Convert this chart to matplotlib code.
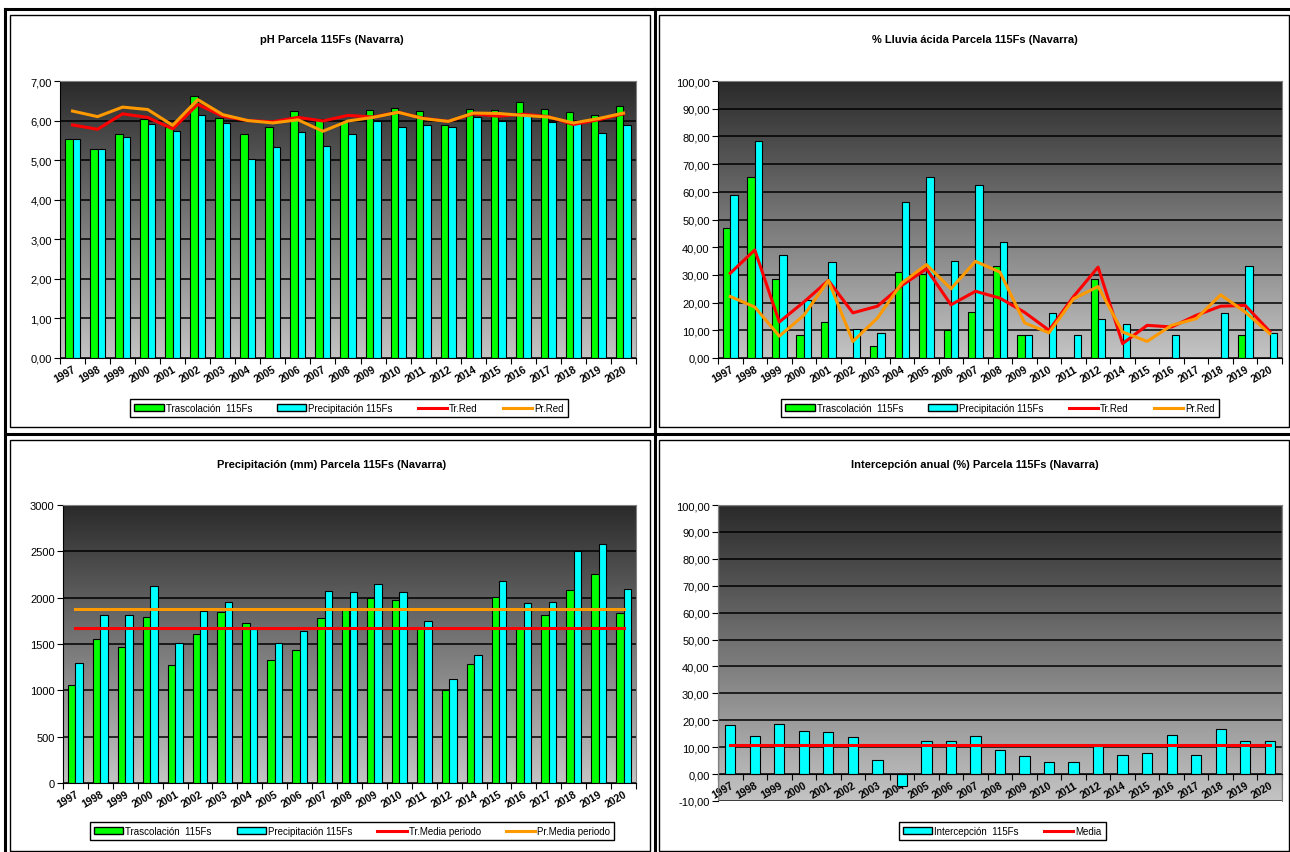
# grafico_115Fs.py
# Cuatro paneles estilo Excel: pH, % lluvia ácida, precipitación e intercepción

import numpy as np
import matplotlib
matplotlib.use("Agg")
import matplotlib.pyplot as plt
import matplotlib.ticker as ticker
from matplotlib.colors import LinearSegmentedColormap
from matplotlib.patches import Patch, Rectangle
from matplotlib.lines import Line2D

plt.rcParams["font.family"] = ["Liberation Sans", "DejaVu Sans"]

# ─── Datos ────────────────────────────────────────────────────────────────────

anios = ["1997", "1998", "1999", "2000", "2001", "2002", "2003", "2004", "2005",
         "2006", "2007", "2008", "2009", "2010", "2011", "2012", "2014", "2015",
         "2016", "2017", "2018", "2019", "2020"]

ph_trasc = [5.54, 5.29, 5.65, 6.05, 5.83, 6.61, 6.06, 5.65, 5.85, 6.23, 6.05, 5.99,
            6.27, 6.32, 6.24, 5.90, 6.30, 6.26, 6.46, 6.28, 6.21, 6.14, 6.36]
ph_prec = [5.54, 5.29, 5.59, 5.92, 5.74, 6.15, 5.94, 5.03, 5.33, 5.71, 5.35, 5.65,
           5.99, 5.84, 5.88, 5.83, 6.08, 5.99, 6.17, 5.96, 5.99, 5.68, 5.88]
ph_tr_red = [5.89, 5.78, 6.17, 6.08, 5.79, 6.41, 6.11, 6.00, 5.97, 6.08, 5.99, 6.13,
             6.09, 6.21, 6.06, 5.98, 6.17, 6.11, 6.16, 6.10, 5.90, 6.02, 6.17]
ph_pr_red = [6.24, 6.10, 6.34, 6.28, 5.88, 6.53, 6.15, 6.00, 5.94, 6.02, 5.73, 5.99,
             6.08, 6.21, 6.05, 5.98, 6.19, 6.18, 6.13, 6.09, 5.94, 6.05, 6.19]

nan = np.nan
acida_trasc = [46.9, 65.2, 28.6, 8.3, 13.0, nan, 4.4, 31.2, 30.4, 10.0, 16.6, 33.3,
               8.2, nan, nan, 28.5, nan, nan, nan, nan, nan, 8.2, nan]
acida_prec = [58.8, 78.4, 37.3, 20.9, 34.7, 10.3, 8.9, 56.2, 65.2, 34.9, 62.4, 41.7,
              8.2, 16.4, 8.2, 14.2, 12.4, nan, 8.2, nan, 16.4, 33.1, 8.9]
acida_tr_red = [30.6, 39.0, 13.0, 20.2, 28.0, 16.3, 18.7, 26.2, 32.2, 19.2, 24.1, 21.6,
                16.5, 10.0, 22.2, 32.8, 5.2, 11.8, 11.2, 15.4, 18.7, 19.0, 9.6]
acida_pr_red = [22.2, 18.4, 7.9, 15.4, 28.0, 6.0, 14.4, 27.1, 33.7, 25.0, 34.9, 31.0,
                12.7, 9.1, 21.4, 25.8, 9.4, 6.0, 11.8, 14.2, 22.8, 16.6, 8.8]

lluvia_trasc = [1056, 1552, 1470, 1786, 1272, 1603, 1847, 1732, 1326, 1437, 1782, 1868,
                2001, 1973, 1670, 1003, 1283, 2009, 1670, 1815, 2088, 2260, 1836]
lluvia_prec = [1297, 1815, 1811, 2124, 1513, 1851, 1951, 1657, 1513, 1639, 2077, 2066,
               2149, 2066, 1743, 1117, 1380, 2177, 1947, 1955, 2504, 2584, 2098]
lluvia_tr_media = 1671
lluvia_pr_media = 1876

intercepcion = [18.4, 14.3, 18.8, 15.9, 15.8, 13.8, 5.4, -4.3, 12.4, 12.2, 14.2, 9.1,
                6.8, 4.4, 4.6, 10.5, 7.0, 7.8, 14.5, 7.2, 16.7, 12.4, 12.4]
intercepcion_media = 10.9

# ─── Estilo ───────────────────────────────────────────────────────────────────

W, H = 1290, 853
VERDE, CIAN, ROJO, NARANJA = "#00FF00", "#00FFFF", "#FF0000", "#FF9900"
fondo = LinearSegmentedColormap.from_list("fondo", ["#2a2a2a", "#c4c4c4"])
x = np.arange(len(anios))


def fx(px):
    return px / W


def fy(py):
    return 1 - py / H


def crear_ejes(fig, izq, der, arriba, abajo, eje_en_cero=False):
    ax = fig.add_axes([fx(izq), fy(abajo), fx(der - izq), (abajo - arriba) / H])
    grad = np.linspace(0, 1, 256).reshape(-1, 1)
    ax.imshow(grad, extent=[0, 1, 0, 1], transform=ax.transAxes, aspect="auto",
              cmap=fondo, zorder=0, interpolation="bilinear")
    ax.set_axisbelow(True)
    ax.yaxis.grid(True, color="black", linewidth=1.1)
    for lado in ["top", "right"]:
        ax.spines[lado].set_color("#808080")
    ax.spines["left"].set_color("black")
    ax.spines["bottom"].set_color("black")
    if eje_en_cero:
        # el eje de categorías cruza en 0, el borde inferior queda en gris
        ax.spines["bottom"].set_position(("data", 0))
        ax.add_patch(Rectangle((0, 0), 1, 1, transform=ax.transAxes, fill=False,
                               edgecolor="#808080", linewidth=1, zorder=5))
    ax.set_xlim(-0.5, len(anios) - 0.5)
    # marcas en los límites de categoría, etiquetas en el centro
    ax.set_xticks(np.arange(-0.5, len(anios)))
    ax.set_xticklabels([])
    ax.set_xticks(x, minor=True)
    ax.set_xticklabels(anios, minor=True, rotation=30, ha="right",
                       rotation_mode="anchor", fontsize=7.5, fontweight="bold")
    ax.tick_params(axis="x", which="major", length=4, direction="out", color="black")
    ax.tick_params(axis="x", which="minor", length=0, pad=4)
    ax.tick_params(axis="y", length=4, labelsize=8, color="black", pad=2)
    return ax


def leyenda(fig, handles, cx, cy):
    fig.legend(handles=handles, loc="center", bbox_to_anchor=(fx(cx), fy(cy)),
               ncol=len(handles), fontsize=7, frameon=True, fancybox=False,
               edgecolor="black", framealpha=1, handlelength=3.0, handleheight=0.7,
               columnspacing=2.6, handletextpad=0.2, borderpad=0.45)


def coma(fmt):
    return ticker.FuncFormatter(lambda v, p: fmt.format(v).replace(".", ","))


fig = plt.figure(figsize=(W / 100, H / 100), dpi=100)

# ─── Marcos ───────────────────────────────────────────────────────────────────

for (x0, y0, x1, y1) in [(10, 16, 650, 428), (659, 16, 1289, 428),
                         (10, 441, 650, 852), (659, 441, 1289, 852)]:
    fig.add_artist(Rectangle((fx(x0), fy(y1)), fx(x1 - x0), (y1 - y0) / H,
                             transform=fig.transFigure, fill=False,
                             edgecolor="black", linewidth=1))
for (xa, ya, xb, yb) in [(5, 10, 1290, 10), (5, 10, 5, 853), (654.5, 10, 654.5, 853),
                         (5, 434.5, 1290, 434.5)]:
    fig.add_artist(Line2D([fx(xa), fx(xb)], [fy(ya), fy(yb)], transform=fig.transFigure,
                          color="black", linewidth=2.2))

# ─── pH ───────────────────────────────────────────────────────────────────────

ax1 = crear_ejes(fig, 60, 636, 82, 359)
ax1.bar(x - 0.15, ph_trasc, 0.3, color=VERDE, edgecolor="black", linewidth=0.8, zorder=2)
ax1.bar(x + 0.15, ph_prec, 0.3, color=CIAN, edgecolor="black", linewidth=0.8, zorder=2)
ax1.plot(x, ph_tr_red, color=ROJO, linewidth=2.2, zorder=3)
ax1.plot(x, ph_pr_red, color=NARANJA, linewidth=2.2, zorder=3)
ax1.set_ylim(0, 7)
ax1.yaxis.set_major_locator(ticker.MultipleLocator(1))
ax1.yaxis.set_major_formatter(coma("{:.2f}"))
fig.text(fx(332), fy(40), "pH Parcela 115Fs (Navarra)", ha="center", va="center",
         fontsize=8, fontweight="bold")

# ─── % Lluvia ácida ───────────────────────────────────────────────────────────

ax2 = crear_ejes(fig, 718, 1282, 82, 359)
ax2.bar(x - 0.15, acida_trasc, 0.3, color=VERDE, edgecolor="black", linewidth=0.8, zorder=2)
ax2.bar(x + 0.15, acida_prec, 0.3, color=CIAN, edgecolor="black", linewidth=0.8, zorder=2)
ax2.plot(x, acida_tr_red, color=ROJO, linewidth=2.2, zorder=3)
ax2.plot(x, acida_pr_red, color=NARANJA, linewidth=2.2, zorder=3)
ax2.set_ylim(0, 100)
ax2.yaxis.set_major_locator(ticker.MultipleLocator(10))
ax2.yaxis.set_major_formatter(coma("{:.2f}"))
fig.text(fx(975), fy(40), "% Lluvia ácida Parcela 115Fs (Navarra)", ha="center",
         va="center", fontsize=8, fontweight="bold")

h_red = [Patch(facecolor=VERDE, edgecolor="black", label="Trascolación  115Fs"),
         Patch(facecolor=CIAN, edgecolor="black", label="Precipitación 115Fs"),
         Line2D([], [], color=ROJO, linewidth=2.2, label="Tr.Red"),
         Line2D([], [], color=NARANJA, linewidth=2.2, label="Pr.Red")]
leyenda(fig, h_red, 349, 409)
leyenda(fig, h_red, 1000, 409)

# ─── Precipitación ────────────────────────────────────────────────────────────

ax3 = crear_ejes(fig, 63, 636, 506, 784)
ax3.bar(x - 0.15, lluvia_trasc, 0.3, color=VERDE, edgecolor="black", linewidth=0.8, zorder=2)
ax3.bar(x + 0.15, lluvia_prec, 0.3, color=CIAN, edgecolor="black", linewidth=0.8, zorder=2)
ax3.plot([x[0], x[-1]], [lluvia_tr_media] * 2, color=ROJO, linewidth=2.2, zorder=3)
ax3.plot([x[0], x[-1]], [lluvia_pr_media] * 2, color=NARANJA, linewidth=2.2, zorder=3)
ax3.set_ylim(0, 3000)
ax3.yaxis.set_major_locator(ticker.MultipleLocator(500))
fig.text(fx(332), fy(465), "Precipitación (mm) Parcela 115Fs (Navarra)", ha="center",
         va="center", fontsize=8, fontweight="bold")
leyenda(fig, [h_red[0], h_red[1],
              Line2D([], [], color=ROJO, linewidth=2.2, label="Tr.Media periodo"),
              Line2D([], [], color=NARANJA, linewidth=2.2, label="Pr.Media periodo")],
        352, 832)

# ─── Intercepción ─────────────────────────────────────────────────────────────

ax4 = crear_ejes(fig, 718, 1282, 506, 802, eje_en_cero=True)
ax4.bar(x, intercepcion, 0.42, color=CIAN, edgecolor="black", linewidth=0.8, zorder=2)
ax4.plot([x[0], x[-1]], [intercepcion_media] * 2, color=ROJO, linewidth=2.2, zorder=3)
ax4.set_ylim(-10, 100)
ax4.yaxis.set_major_locator(ticker.MultipleLocator(10))
ax4.yaxis.set_major_formatter(coma("{:.2f}"))
fig.text(fx(975), fy(465), "Intercepción anual (%) Parcela 115Fs (Navarra)", ha="center",
         va="center", fontsize=8, fontweight="bold")
leyenda(fig, [Patch(facecolor=CIAN, edgecolor="black", label="Intercepción  115Fs"),
              Line2D([], [], color=ROJO, linewidth=2.2, label="Media")],
        1002, 832)

plt.savefig("out.png", dpi=100)
